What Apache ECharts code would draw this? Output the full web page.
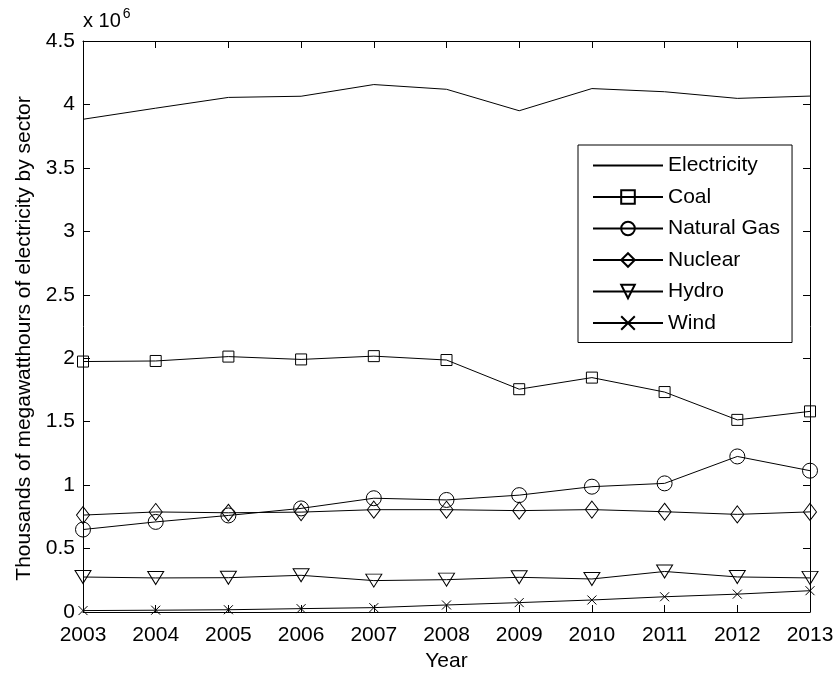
<!DOCTYPE html>
<html>
<head>
<meta charset="utf-8">
<script src="https://cdn.jsdelivr.net/npm/echarts@6/dist/echarts.min.js"></script>
<style>
html,body{margin:0;padding:0;background:#fff;}
#chart{width:839px;height:677px;}
</style>
</head>
<body>
<div id="chart"></div>
<script>
const years = [2003, 2004, 2005, 2006, 2007, 2008, 2009, 2010, 2011, 2012, 2013];
const electricity = [3883185, 3970555, 4055423, 4064702, 4156745, 4119388, 3950331, 4125060, 4100141, 4047765, 4065964];
const coal = [1973737, 1978301, 2012873, 1990511, 2016456, 1985801, 1755904, 1847290, 1733430, 1514043, 1581115];
const naturalGas = [649908, 710100, 760960, 816441, 896590, 882981, 920979, 987697, 1013689, 1225894, 1113665];
const nuclear = [763733, 788528, 781986, 787219, 806425, 806208, 798855, 806968, 790204, 769331, 789016];
const hydro = [275806, 268417, 270321, 289246, 247510, 254831, 273445, 260203, 319355, 276240, 268565];
const wind = [11187, 14144, 17811, 26589, 34450, 55363, 73886, 94652, 120177, 140822, 167840];
const yTicks = ['0', '0.5', '1', '1.5', '2', '2.5', '3', '3.5', '4', '4.5'];
const seriesNames = ['Electricity', 'Coal', 'Natural Gas', 'Nuclear', 'Hydro', 'Wind'];

const FONT = 'Liberation Sans, Arial, Helvetica, sans-serif';
const FS = 21;
const BLACK = '#000';

function pairs(vals) { return years.map((y, i) => [y, vals[i]]); }

const crossPath = 'path://M0,0L10,10M10,0L0,10';

function mk(name, vals, symbol, size, rotate) {
  return {
    name: name,
    type: 'line',
    data: pairs(vals),
    symbol: symbol,
    symbolSize: size,
    symbolRotate: rotate || 0,
    showSymbol: symbol !== 'none',
    animation: false,
    lineStyle: { color: BLACK, width: 1 },
    itemStyle: { color: 'transparent', borderColor: BLACK, borderWidth: 1 },
    emphasis: { disabled: true },
    z: 3
  };
}

const legendData = seriesNames.map((n, i) => i === 0
  ? { name: n, itemStyle: { color: 'transparent', borderColor: 'transparent', borderWidth: 0 } }
  : { name: n });

const chart = echarts.init(document.getElementById('chart'), null, { renderer: 'canvas' });
chart.setOption({
  backgroundColor: '#fff',
  animation: false,
  textStyle: { fontFamily: FONT, color: BLACK },
  grid: { left: 83, right: 29, top: 41, bottom: 65 },
  legend: {
    orient: 'vertical',
    left: 578,
    top: 145,
    padding: [10, 12, 9, 14],
    itemWidth: 70,
    itemHeight: 17,
    itemGap: 10.5,
    backgroundColor: '#fff',
    borderColor: BLACK,
    borderWidth: 1,
    textStyle: { fontFamily: FONT, fontSize: FS, color: BLACK, padding: [0, 0, 0, 0] },
    data: legendData,
    selectedMode: false
  },
  xAxis: [
    {
      type: 'value', min: 2003, max: 2013, interval: 1,
      name: 'Year', nameLocation: 'middle', nameGap: 39,
      nameTextStyle: { fontFamily: FONT, fontSize: FS, color: BLACK },
      axisLine: { show: true, onZero: false, lineStyle: { color: BLACK, width: 1 } },
      axisTick: { show: true, inside: true, length: 7, lineStyle: { color: BLACK } },
      axisLabel: { fontFamily: FONT, fontSize: FS, color: BLACK, margin: 13, formatter: v => String(v) },
      splitLine: { show: false }
    },
    {
      type: 'value', min: 2003, max: 2013, interval: 1, position: 'top',
      axisLine: { show: true, onZero: false, lineStyle: { color: BLACK, width: 1 } },
      axisTick: { show: true, inside: true, length: 7, lineStyle: { color: BLACK } },
      axisLabel: { show: false },
      splitLine: { show: false }
    }
  ],
  yAxis: [
    {
      type: 'value', min: 0, max: 4500000, interval: 500000,
      name: 'x 10{sup|6}', nameLocation: 'end', nameGap: 6,
      nameTextStyle: {
        fontFamily: FONT, fontSize: 20, color: BLACK, align: 'left', verticalAlign: 'bottom',
        rich: { sup: { fontFamily: FONT, fontSize: 14, color: BLACK, verticalAlign: 'top', padding: [0, 0, 14, 2] } }
      },
      axisLine: { show: true, onZero: false, lineStyle: { color: BLACK, width: 1 } },
      axisTick: { show: true, inside: true, length: 7, lineStyle: { color: BLACK } },
      axisLabel: { fontFamily: FONT, fontSize: FS, color: BLACK, margin: 8, formatter: (v, i) => yTicks[i] },
      splitLine: { show: false }
    },
    {
      type: 'value', min: 0, max: 4500000, interval: 500000, position: 'right',
      axisLine: { show: true, onZero: false, lineStyle: { color: BLACK, width: 1 } },
      axisTick: { show: true, inside: true, length: 7, lineStyle: { color: BLACK } },
      axisLabel: { show: false },
      splitLine: { show: false }
    }
  ],
  graphic: [
    {
      type: 'text',
      left: 14,
      top: 'middle',
      rotation: Math.PI / 2,
      style: {
        text: 'Thousands of megawatthours of electricity by sector',
        font: FS + 'px ' + FONT,
        fill: BLACK
      }
    }
  ],
  series: [
    mk('Electricity', electricity, 'none', 0),
    mk('Coal', coal, 'rect', 11),
    mk('Natural Gas', naturalGas, 'circle', 15),
    mk('Nuclear', nuclear, 'diamond', [13, 17]),
    mk('Hydro', hydro, 'triangle', [16, 13], 180),
    mk('Wind', wind, crossPath, 9)
  ]
});
</script>
</body>
</html>
